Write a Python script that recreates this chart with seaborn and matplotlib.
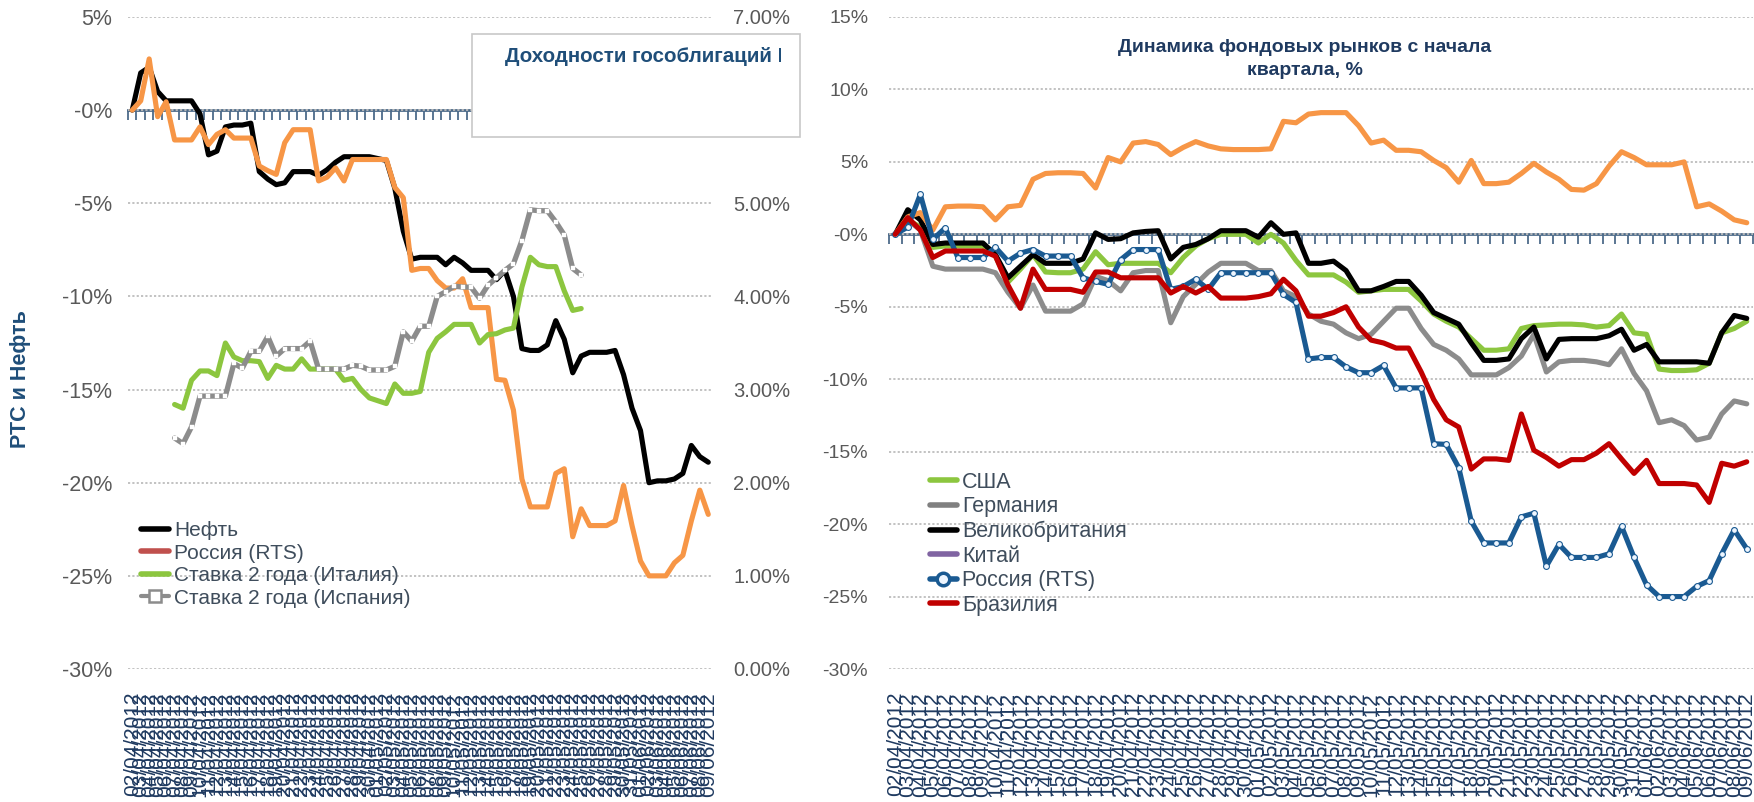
import numpy as np
import pandas as pd
import matplotlib
matplotlib.use("Agg")
import matplotlib.pyplot as plt
import seaborn as sns
from matplotlib.lines import Line2D
from matplotlib.patches import Rectangle
from matplotlib import font_manager

# ---------------- data ----------------
dates = pd.date_range("2012-04-02", "2012-06-09").strftime("%d/%m/%Y").tolist()

oil = [0, 2.0, 2.3, 1.0, 0.5, 0.5, 0.5, 0.5, -0.2, -2.4,
       -2.2, -0.9, -0.8, -0.8, -0.7, -3.3, -3.7, -4.0, -3.9, -3.3,
       -3.3, -3.3, -3.5, -3.2, -2.8, -2.5, -2.5, -2.5, -2.5, -2.6,
       -2.7, -4.2, -6.5, -8.0, -7.9, -7.9, -7.9, -8.3, -7.9, -8.2,
       -8.6, -8.6, -8.6, -9.1, -8.6, -10.0, -12.8, -12.9, -12.9, -12.6,
       -11.3, -12.3, -14.1, -13.2, -13.0, -13.0, -13.0, -12.9, -14.2, -16.0,
       -17.2, -20.0, -19.9, -19.9, -19.8, -19.5, -18.0, -18.6, -18.9]

rts = [0, 0.5, 2.75, -0.35, 0.45, -1.6, -1.6, -1.6, -0.9, -1.85,
       -1.3, -1.05, -1.5, -1.5, -1.5, -3.0, -3.25, -3.45, -1.75, -1.05,
       -1.05, -1.05, -3.8, -3.6, -3.1, -3.8, -2.65, -2.65, -2.65, -2.65,
       -2.65, -4.15, -4.7, -8.6, -8.5, -8.5, -9.15, -9.55, -9.55, -9.05,
       -10.6, -10.6, -10.6, -14.45, -14.5, -16.1, -19.8, -21.3, -21.3, -21.3,
       -19.5, -19.25, -22.9, -21.4, -22.3, -22.3, -22.3, -22.05, -20.15, -22.3,
       -24.2, -25.0, -25.0, -25.0, -24.3, -23.9, -22.05, -20.4, -21.7]

bond_start = 5  # first date index of the 2-year yield series
italy_2y = [2.84, 2.8, 3.1, 3.2, 3.2, 3.15, 3.5, 3.35, 3.31, 3.31,
            3.3, 3.12, 3.26, 3.22, 3.22, 3.33, 3.22, 3.22, 3.22, 3.22,
            3.1, 3.12, 3.0, 2.91, 2.88, 2.85, 3.06, 2.96, 2.96, 2.98,
            3.4, 3.55, 3.62, 3.7, 3.7, 3.7, 3.5, 3.59, 3.6, 3.64,
            3.66, 4.1, 4.42, 4.34, 4.32, 4.32, 4.06, 3.85, 3.87]
spain_2y = [2.48, 2.42, 2.6, 2.93, 2.93, 2.93, 2.93, 3.28, 3.23, 3.41,
            3.41, 3.57, 3.36, 3.44, 3.44, 3.44, 3.52, 3.22, 3.22, 3.22,
            3.22, 3.26, 3.25, 3.21, 3.21, 3.21, 3.25, 3.62, 3.52, 3.68,
            3.68, 4.0, 4.05, 4.11, 4.1, 4.1, 3.98, 4.12, 4.2, 4.28,
            4.35, 4.6, 4.93, 4.92, 4.92, 4.8, 4.66, 4.3, 4.23]

usa = [0, 1.0, 0.5, -0.9, -0.8, -0.8, -0.8, -0.8, -1.5, -3.3,
       -2.4, -1.4, -2.6, -2.65, -2.65, -2.4, -1.2, -2.1, -2.0, -2.0,
       -2.0, -2.0, -2.65, -1.6, -0.8, -0.3, 0.0, 0.0, 0.0, -0.6,
       0.0, -0.6, -1.8, -2.8, -2.8, -2.8, -3.3, -4.0, -3.9, -3.8,
       -3.8, -3.8, -4.6, -5.5, -6.0, -6.4, -7.2, -8.0, -8.0, -7.9,
       -6.5, -6.3, -6.25, -6.2, -6.2, -6.25, -6.4, -6.3, -5.5, -6.8,
       -6.9, -9.3, -9.4, -9.4, -9.35, -8.9, -6.8, -6.5, -6.0]
germany = [0, 1.0, 0.3, -2.2, -2.4, -2.4, -2.4, -2.4, -2.65, -4.0,
           -5.1, -3.5, -5.3, -5.3, -5.3, -4.8, -2.9, -3.2, -3.9, -2.65,
           -2.5, -2.5, -6.1, -4.3, -3.45, -2.6, -2.0, -2.0, -2.0, -2.5,
           -2.5, -3.9, -4.3, -5.5, -6.0, -6.2, -6.8, -7.2, -6.9, -6.0,
           -5.1, -5.1, -6.5, -7.6, -8.0, -8.6, -9.7, -9.7, -9.7, -9.2,
           -8.4, -6.9, -9.5, -8.8, -8.7, -8.7, -8.8, -9.0, -7.9, -9.6,
           -10.8, -13.0, -12.8, -13.2, -14.2, -14.0, -12.4, -11.5, -11.7]
uk = [0, 1.7, 1.0, -0.7, -0.6, -0.6, -0.6, -0.6, -1.4, -3.0,
      -2.2, -1.4, -2.0, -2.0, -2.0, -1.7, 0.1, -0.35, -0.3, 0.1,
      0.2, 0.25, -1.7, -0.9, -0.7, -0.3, 0.25, 0.25, 0.25, -0.2,
      0.8, 0.0, 0.1, -2.0, -2.0, -1.85, -2.5, -3.9, -3.9, -3.6,
      -3.25, -3.25, -4.2, -5.4, -5.8, -6.2, -7.5, -8.7, -8.7, -8.6,
      -7.2, -6.4, -8.6, -7.25, -7.2, -7.2, -7.2, -7.0, -6.55, -8.0,
      -7.6, -8.8, -8.8, -8.8, -8.8, -8.9, -6.8, -5.6, -5.8]
china = [0, 1.2, 1.5, 0.3, 1.9, 1.95, 1.95, 1.9, 1.0, 1.9,
         2.0, 3.8, 4.2, 4.25, 4.25, 4.2, 3.2, 5.3, 5.0, 6.3,
         6.4, 6.2, 5.5, 6.0, 6.4, 6.1, 5.9, 5.85, 5.85, 5.85,
         5.9, 7.8, 7.7, 8.3, 8.4, 8.4, 8.4, 7.5, 6.3, 6.5,
         5.8, 5.8, 5.7, 5.1, 4.6, 3.6, 5.1, 3.5, 3.5, 3.6,
         4.2, 4.9, 4.3, 3.8, 3.1, 3.05, 3.5, 4.7, 5.7, 5.3,
         4.8, 4.8, 4.8, 5.0, 1.9, 2.1, 1.6, 1.0, 0.8]
brazil = [0, 1.15, 0.3, -1.6, -1.15, -1.15, -1.15, -1.15, -1.5, -3.5,
          -5.1, -2.4, -3.8, -3.8, -3.8, -4.0, -2.6, -2.6, -3.0, -3.0,
          -3.0, -3.0, -4.05, -3.6, -4.05, -3.6, -4.4, -4.4, -4.4, -4.3,
          -4.1, -3.1, -3.9, -5.65, -5.65, -5.4, -5.0, -6.4, -7.3, -7.5,
          -7.85, -7.85, -9.5, -11.4, -12.8, -13.3, -16.2, -15.5, -15.5, -15.6,
          -12.4, -14.9, -15.4, -16.0, -15.55, -15.55, -15.1, -14.45, -15.5, -16.5,
          -15.6, -17.2, -17.2, -17.2, -17.3, -18.5, -15.8, -16.0, -15.7]

left_ticks = [5, 0, -5, -10, -15, -20, -25, -30]
left_ticklabels = ["5%", "-0%", "-5%", "-10%", "-15%", "-20%", "-25%", "-30%"]
bond_ticks = [0, 1, 2, 3, 4, 5, 6, 7]
bond_ticklabels = ["0.00%", "1.00%", "2.00%", "3.00%", "4.00%", "5.00%", "6.00%", "7.00%"]
right_ticks = [15, 10, 5, 0, -5, -10, -15, -20, -25, -30]
right_ticklabels = ["15%", "10%", "5%", "-0%", "-5%", "-10%", "-15%", "-20%", "-25%", "-30%"]

left_labels = ["Нефть", "Россия (RTS)", "Ставка 2 года (Италия)", "Ставка 2 года (Испания)"]
right_labels = ["США", "Германия", "Великобритания", "Китай", "Россия (RTS)", "Бразилия"]

# ---------------- style ----------------
sns.set_theme(style="white")
names = {f.name for f in font_manager.fontManager.ttflist}
NARROW = "Liberation Sans Narrow" if "Liberation Sans Narrow" in names else "Liberation Sans"
narrow_scale = 1.0 if NARROW == "Liberation Sans Narrow" else 0.85
plt.rcParams["font.family"] = ["Liberation Sans", "DejaVu Sans"]

C_BLACK = "#000000"
C_ORANGE = "#F79646"
C_RED_LEG = "#C0504D"
C_GREEN = "#8CC63F"
C_GRAY = "#8C8C8C"
C_BLUE = "#1A5A92"
C_RED = "#C00000"
C_PURPLE = "#8064A2"
C_AXIS = "#4D6B8A"
TICK_GRAY = "#595959"
NAVY = "#1F3A60"

fig = plt.figure(figsize=(17.54, 8.02), dpi=100)
axL = fig.add_axes([128 / 1754, 1 - 669 / 802, (712.5 - 128) / 1754, 652 / 802])
axR = fig.add_axes([889 / 1754, 1 - 669 / 802, (1753 - 889) / 1754, 652 / 802])
x = np.arange(len(dates))


def style_axis(ax, ylim, ticks, ticklabels, ypad, xfont):
    ax.set_xlim(-0.5, len(dates) - 0.5)
    ax.set_ylim(*ylim)
    ax.set_yticks(ticks)
    ax.set_yticklabels(ticklabels)
    for s in ax.spines.values():
        s.set_visible(False)
    ax.yaxis.grid(True, color="#BDBDBD", linestyle=(0, (1.2, 1.2)), linewidth=1.3)
    ax.xaxis.grid(False)
    ax.set_axisbelow(True)
    ax.set_xticks(x)
    ax.set_xticklabels(dates, rotation=90, fontsize=xfont, color=NAVY)
    ax.tick_params(axis="x", length=0, pad=16.5)
    ax.tick_params(axis="y", length=0, pad=ypad, labelcolor=TICK_GRAY)
    zero_frac = (0 - ylim[0]) / (ylim[1] - ylim[0])
    sec = ax.secondary_xaxis(zero_frac)
    sec.set_alignment("bottom")
    sec.set_xticks(np.arange(len(dates) + 1) - 0.5)
    sec.set_xticklabels([])
    sec.tick_params(axis="x", direction="out", length=7, width=1.3, color=C_AXIS)
    sec.spines["bottom"].set_color(C_AXIS)
    sec.spines["bottom"].set_linewidth(2.0)


LW = 3.7
kw = dict(legend=False, solid_joinstyle="round", solid_capstyle="round")

# ---------- left chart ----------
style_axis(axL, (-30, 5), left_ticks, left_ticklabels, 11.5, 15)
for lab in axL.get_yticklabels():
    lab.set_fontsize(15.5)
sns.lineplot(x=x, y=oil, ax=axL, color=C_BLACK, linewidth=LW, **kw)
sns.lineplot(x=x, y=rts, ax=axL, color=C_ORANGE, linewidth=LW, **kw)

axL2 = axL.twinx()
axL2.set_ylim(0, 7)
axL2.set_yticks(bond_ticks)
axL2.set_yticklabels(bond_ticklabels)
for s in axL2.spines.values():
    s.set_visible(False)
axL2.grid(False)
axL2.tick_params(axis="y", length=0, pad=15, labelcolor=TICK_GRAY, labelsize=14.5)
xb = np.arange(bond_start, bond_start + len(italy_2y))
sns.lineplot(x=xb, y=italy_2y, ax=axL2, color=C_GREEN, linewidth=LW, **kw)
sns.lineplot(x=xb, y=spain_2y, ax=axL2, color=C_GRAY, linewidth=3.8, marker="s",
             markersize=3.2, markerfacecolor="white", markeredgecolor="white",
             markeredgewidth=0.3, **kw)
axL2.set_xlim(-0.5, len(dates) - 0.5)

fig.text(21 / 1754, 1 - 379 / 802, "РТС и Нефть", rotation=90, ha="center", va="center",
         fontsize=15.5, fontweight="bold", color="#1F4E79")

hL = [Line2D([], [], color=C_BLACK, lw=4),
      Line2D([], [], color=C_RED_LEG, lw=4),
      Line2D([], [], color=C_GREEN, lw=4),
      Line2D([], [], color=C_GRAY, lw=3, marker="s", markersize=8,
             markerfacecolor="white", markeredgecolor=C_GRAY, markeredgewidth=1.8)]
fig.legend(hL, left_labels, loc="upper left", bbox_to_anchor=(141 / 1754, 1 - 521 / 802),
           frameon=False, fontsize=15, handlelength=1.35, handletextpad=0.25,
           labelspacing=0.17, borderpad=0, borderaxespad=0, labelcolor="#3F4D5C")

rect = Rectangle((472 / 1754, 1 - 137 / 802), (800 - 472) / 1754, 103 / 802,
                 transform=fig.transFigure, facecolor="white", edgecolor="#C8C8C8",
                 linewidth=1.2, zorder=10)
fig.add_artist(rect)
clip = Rectangle((472 / 1754, 1 - 137 / 802), (781 - 472) / 1754, 103 / 802,
                 transform=fig.transFigure, facecolor="none", edgecolor="none")
t = fig.text(505 / 1754, 1 - 57 / 802, "Доходности гособлигаций Италии и Испании, %",
             ha="left", va="center", fontsize=14.8, fontweight="bold", color="#1F4E79",
             zorder=11)
t.set_clip_path(clip)

# ---------- right chart ----------
style_axis(axR, (-30, 15), right_ticks, right_ticklabels, 15, 15)
for lab in axR.get_yticklabels():
    lab.set_fontsize(16.5 * narrow_scale)
    lab.set_family([NARROW, "DejaVu Sans"])
series_R = [(usa, C_GREEN), (germany, C_GRAY), (uk, C_BLACK), (china, C_ORANGE)]
for ys, c in series_R:
    sns.lineplot(x=x, y=ys, ax=axR, color=c, linewidth=LW, **kw)
sns.lineplot(x=x, y=rts, ax=axR, color=C_BLUE, linewidth=LW, marker="o", markersize=4.2,
             markerfacecolor="#EEF6FF", markeredgecolor=C_BLUE, markeredgewidth=0.8, **kw)
sns.lineplot(x=x, y=brazil, ax=axR, color=C_RED, linewidth=LW, **kw)

fig.text(1305 / 1754, 1 - 59 / 802, "Динамика фондовых рынков с начала\nквартала, %",
         ha="center", va="center", fontsize=16.5 * narrow_scale, fontweight="bold",
         color=NAVY, family=[NARROW, "DejaVu Sans"], linespacing=1.45)

hR = [Line2D([], [], color=C_GREEN, lw=4),
      Line2D([], [], color="#808080", lw=4),
      Line2D([], [], color=C_BLACK, lw=4),
      Line2D([], [], color=C_PURPLE, lw=4),
      Line2D([], [], color=C_BLUE, lw=4, marker="o", markersize=9,
             markerfacecolor="#EEF6FF", markeredgecolor=C_BLUE, markeredgewidth=2.5),
      Line2D([], [], color=C_RED, lw=4)]
fig.legend(hR, right_labels, loc="upper left", bbox_to_anchor=(930 / 1754, 1 - 472 / 802),
           frameon=False, fontsize=15.5, handlelength=1.25, handletextpad=0.25,
           labelspacing=0.16, borderpad=0, borderaxespad=0, labelcolor="#3F4D5C")

fig.savefig("out.png", dpi=100)
